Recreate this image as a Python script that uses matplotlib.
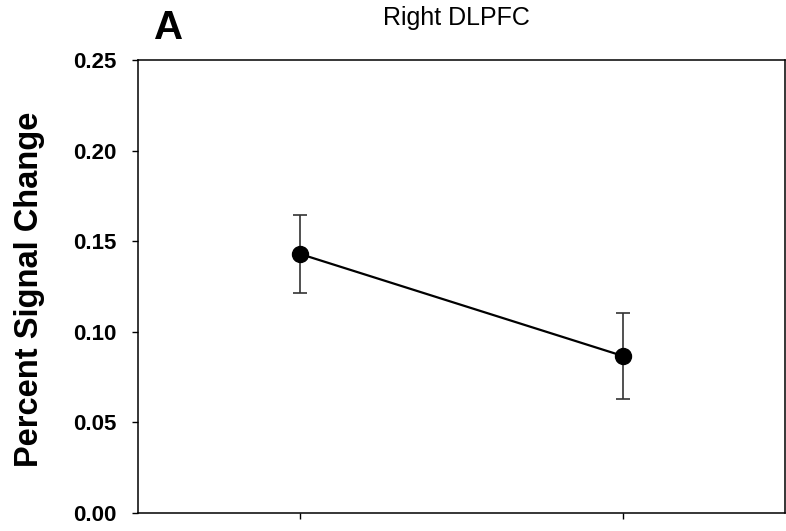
import matplotlib
matplotlib.use("Agg")
import matplotlib.pyplot as plt
import numpy as np

plt.rcParams["font.family"] = ["Liberation Sans", "DejaVu Sans"]

# data
conditions = ["", ""]
x_pos = [1, 2]
mean_psc = [0.143, 0.0866]
sem_psc = [0.0215, 0.0235]
y_ticks = [0.00, 0.05, 0.10, 0.15, 0.20, 0.25]

fig = plt.figure(figsize=(7.86, 5.31), dpi=100)
ax = fig.add_axes([0.1756, 0.0339, 0.8231, 0.8531])

ax.errorbar(x_pos, mean_psc, yerr=sem_psc, fmt="none", ecolor="#333333",
            elinewidth=1.2, capsize=5, capthick=1.2, zorder=2)
ax.plot(x_pos, mean_psc, color="black", lw=1.6, marker="o", ms=11.5,
        mfc="black", mec="black", zorder=3)

ax.set_xlim(0.5, 2.5)
ax.set_ylim(0, 0.25)
ax.set_xticks(x_pos)
ax.set_xticklabels(conditions)
ax.set_yticks(y_ticks)
ax.set_yticklabels([f"{v:.2f}" for v in y_ticks], fontsize=16, fontweight="bold")
ax.tick_params(direction="out", length=4.5, width=1.0, pad=11,
               top=False, right=False)
for sp in ax.spines.values():
    sp.set_linewidth(1.1)

fig.text(30 / 786, 1 - 289 / 531, "Percent Signal Change", rotation=90,
         ha="center", va="center", fontsize=23.5, fontweight="bold")
fig.text(456 / 786, 1 - 18 / 531, "Right DLPFC", ha="center", va="center",
         fontsize=18)
fig.text(169 / 786, 1 - 28 / 531, "A", ha="center", va="center",
         fontsize=29, fontweight="bold")

fig.savefig("out.png", dpi=100)
